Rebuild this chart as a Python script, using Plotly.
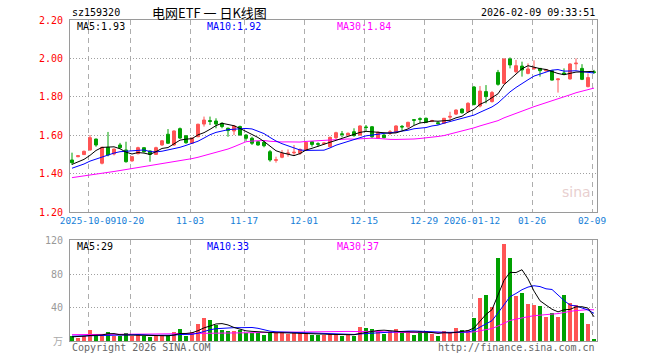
import plotly.graph_objects as go
import pandas as pd

# ---------------- data ----------------
opens = [1.471, 1.488, 1.499, 1.523, 1.580, 1.454, 1.537, 1.502, 1.549, 1.523,
         1.466, 1.504, 1.535, 1.518, 1.500, 1.549, 1.605, 1.549, 1.634, 1.597,
         1.558, 1.592, 1.658, 1.676, 1.674, 1.662, 1.636, 1.622, 1.645, 1.601,
         1.584, 1.566, 1.563, 1.514, 1.469, 1.485, 1.504, 1.508, 1.506, 1.523,
         1.566, 1.556, 1.556, 1.540, 1.587, 1.607, 1.601, 1.618, 1.601, 1.643,
         1.644, 1.584, 1.601, 1.610, 1.615, 1.646, 1.644, 1.681, 1.686, 1.688,
         1.672, 1.665, 1.662, 1.694, 1.710, 1.736, 1.722, 1.851, 1.752, 1.827,
         1.775, 1.927, 1.870, 1.997, 1.931, 1.960, 1.922, 1.946, 1.948, 1.936,
         1.936, 1.889, 1.924, 1.893, 1.972, 1.948, 1.853, 1.930]
highs = [1.509, 1.497, 1.520, 1.601, 1.582, 1.540, 1.617, 1.530, 1.560, 1.566,
         1.490, 1.540, 1.537, 1.520, 1.540, 1.575, 1.632, 1.625, 1.640, 1.600,
         1.590, 1.660, 1.697, 1.697, 1.688, 1.667, 1.640, 1.653, 1.650, 1.605,
         1.592, 1.570, 1.575, 1.523, 1.488, 1.523, 1.526, 1.549, 1.531, 1.566,
         1.568, 1.563, 1.563, 1.592, 1.618, 1.622, 1.614, 1.636, 1.652, 1.653,
         1.648, 1.620, 1.605, 1.627, 1.652, 1.653, 1.670, 1.684, 1.693, 1.692,
         1.680, 1.672, 1.690, 1.722, 1.735, 1.740, 1.772, 1.856, 1.856, 1.861,
         1.830, 1.940, 2.000, 2.005, 1.992, 1.983, 1.974, 1.990, 1.950, 1.945,
         1.940, 1.895, 1.948, 1.975, 2.000, 1.970, 1.922, 1.940]
lows = [1.445, 1.485, 1.497, 1.520, 1.540, 1.448, 1.490, 1.495, 1.530, 1.457,
        1.462, 1.500, 1.510, 1.462, 1.497, 1.545, 1.555, 1.545, 1.580, 1.555,
        1.555, 1.590, 1.645, 1.653, 1.636, 1.636, 1.592, 1.601, 1.598, 1.571,
        1.549, 1.545, 1.537, 1.462, 1.457, 1.480, 1.488, 1.497, 1.497, 1.520,
        1.540, 1.540, 1.550, 1.537, 1.578, 1.589, 1.598, 1.592, 1.598, 1.622,
        1.584, 1.580, 1.584, 1.601, 1.612, 1.627, 1.636, 1.653, 1.662, 1.663,
        1.668, 1.655, 1.658, 1.670, 1.705, 1.712, 1.718, 1.755, 1.745, 1.766,
        1.770, 1.858, 1.865, 1.948, 1.922, 1.905, 1.917, 1.940, 1.905, 1.930,
        1.885, 1.822, 1.913, 1.890, 1.940, 1.887, 1.849, 1.920]
closes = [1.457, 1.493, 1.516, 1.587, 1.549, 1.537, 1.497, 1.528, 1.535, 1.462,
          1.488, 1.535, 1.514, 1.500, 1.535, 1.571, 1.558, 1.622, 1.585, 1.561,
          1.584, 1.657, 1.679, 1.672, 1.658, 1.645, 1.624, 1.648, 1.601, 1.584,
          1.558, 1.549, 1.545, 1.471, 1.472, 1.506, 1.507, 1.511, 1.526, 1.563,
          1.552, 1.553, 1.559, 1.589, 1.613, 1.604, 1.610, 1.598, 1.648, 1.640,
          1.592, 1.615, 1.587, 1.618, 1.648, 1.643, 1.667, 1.678, 1.683, 1.667,
          1.676, 1.660, 1.688, 1.698, 1.731, 1.717, 1.766, 1.760, 1.830, 1.801,
          1.822, 1.865, 1.997, 1.966, 1.962, 1.940, 1.945, 1.950, 1.936, 1.941,
          1.887, 1.893, 1.918, 1.971, 1.975, 1.891, 1.900, 1.927]
volumes = [5.4, 3.2, 5.4, 12.7, 8.6, 6.4, 10.2, 6.4, 6.0, 9.0,
           6.4, 6.8, 6.0, 4.4, 6.4, 7.2, 7.2, 10.4, 13.9, 6.4,
           11.2, 20.0, 27.2, 24.7, 19.0, 13.3, 12.0, 12.0, 13.7, 10.0,
           10.0, 10.0, 6.8, 11.2, 11.2, 10.4, 8.8, 10.0, 10.0, 10.0,
           7.6, 6.8, 6.8, 8.6, 8.7, 6.3, 7.5, 6.3, 16.3, 15.1,
           13.9, 11.5, 7.9, 11.5, 13.9, 10.7, 11.5, 7.5, 11.5, 11.5,
           8.7, 6.3, 11.5, 10.3, 15.1, 12.7, 12.7, 27.0, 52.0, 55.0,
           41.0, 99.0, 116.0, 100.0, 54.0, 58.0, 44.0, 43.0, 42.0, 28.3,
           33.0, 28.3, 55.0, 45.0, 43.0, 34.0, 20.0, 3.0]

# moving-average values before enough history is on screen
ma5_head = [1.448, 1.460, 1.474, 1.495]
ma10_head = [1.428, 1.438, 1.450, 1.465, 1.476, 1.488, 1.498, 1.507, 1.514]
ma30_head = [1.379, 1.383, 1.388, 1.393, 1.398, 1.402, 1.407, 1.411, 1.416, 1.421,
             1.425, 1.430, 1.435, 1.440, 1.445, 1.450, 1.455, 1.460, 1.466, 1.472,
             1.478, 1.485, 1.493, 1.501, 1.510, 1.519, 1.528, 1.540, 1.553]
vma5_head = [5.0, 5.2, 5.8, 6.6]
vma10_head = [5.8, 5.9, 6.0, 6.2, 6.4, 6.6, 6.8, 7.0, 7.2]
vma30_head = [7.6, 7.6, 7.7, 7.7, 7.8, 7.8, 7.9, 7.9, 8.0, 8.0,
              8.1, 8.1, 8.2, 8.3, 8.4, 8.5, 8.6, 8.7, 8.8, 8.9,
              9.0, 9.2, 9.4, 9.6, 9.8, 9.9, 10.0, 10.1, 10.3]

# header readouts as printed on the chart
price_ma_text = ["MA5:1.93", "MA10:1.92", "MA30:1.84"]
vol_ma_text = ["MA5:29", "MA10:33", "MA30:37"]

tick_idx = [3, 10, 20, 29, 39, 49, 59, 67, 77, 87]
tick_labels = ["2025-10-09", "10-20", "11-03", "11-17", "12-01", "12-15",
               "12-29", "2026-01-12", "01-26", "02-09"]
price_ticks = [1.20, 1.40, 1.60, 1.80, 2.00, 2.20]
vol_ticks = [40, 80, 120]

code = "sz159320"
title_text = "电网ETF 一 日K线图"
stamp = "2026-02-09 09:33:51"

# ---------------- derived ----------------
n = len(closes)
xs = list(range(n))


def moving_average(values, window, head):
    s = pd.Series(values, dtype=float).rolling(window).mean().tolist()
    return list(head) + s[len(head):]


ma5 = moving_average(closes, 5, ma5_head)
ma10 = moving_average(closes, 10, ma10_head)
ma30 = moving_average(closes, 30, ma30_head)
vma5 = moving_average(volumes, 5, vma5_head)
vma10 = moving_average(volumes, 10, vma10_head)
vma30 = moving_average(volumes, 30, vma30_head)

UP = "#FF5555"
DOWN = "#00A000"
MONO = "DejaVu Sans Mono"
CJK = "Noto Sans CJK SC"
GRID = "#ADADAD"
BORDER = "#9A9A9A"
MA_COLORS = ["#000000", "#0000FF", "#FF00FF"]

bar_colors = [UP if c >= o else DOWN for o, c in zip(opens, closes)]

fig = go.Figure()
fig.add_trace(go.Candlestick(
    x=xs, open=opens, high=highs, low=lows, close=closes,
    increasing=dict(line=dict(color=UP, width=1), fillcolor=UP),
    decreasing=dict(line=dict(color=DOWN, width=1), fillcolor=DOWN),
    whiskerwidth=0, xaxis="x", yaxis="y", hoverinfo="skip"))
for vals, col in ((ma30, MA_COLORS[2]), (ma10, MA_COLORS[1]), (ma5, MA_COLORS[0])):
    fig.add_trace(go.Scatter(x=xs, y=vals, mode="lines",
                             line=dict(color=col, width=1),
                             xaxis="x", yaxis="y", hoverinfo="skip"))

fig.add_trace(go.Bar(x=xs, y=volumes, marker=dict(color=bar_colors, line=dict(width=0)),
                     width=0.82, xaxis="x2", yaxis="y2", hoverinfo="skip"))
for vals, col in ((vma30, MA_COLORS[2]), (vma10, MA_COLORS[1]), (vma5, MA_COLORS[0])):
    fig.add_trace(go.Scatter(x=xs, y=vals, mode="lines",
                             line=dict(color=col, width=1),
                             xaxis="x2", yaxis="y2", hoverinfo="skip"))

# plot-area geometry (pixels)
L, R, T, B = 70, 597, 20, 341
W, H = R - L, B - T


def px(X):
    return (X - L) / W


def py(Y):
    return (B - Y) / H


grid_x = [i - 1 / 3 for i in tick_idx]
xrange_ = [-1 / 3, n - 0.5]

common_x = dict(range=xrange_, showgrid=True, gridcolor=GRID, gridwidth=1,
                griddash="5px,4px", zeroline=False, showline=True, mirror=True,
                linecolor=BORDER, linewidth=1, ticks="", fixedrange=True,
                tickvals=grid_x, automargin=False)

fig.update_layout(
    width=660, height=360,
    margin=dict(l=L, r=660 - R, t=T, b=360 - B, autoexpand=False),
    paper_bgcolor="white", plot_bgcolor="white",
    showlegend=False, hovermode=False, boxgap=0.3, bargap=0,
    xaxis=dict(**common_x, anchor="y", ticktext=tick_labels, tickangle=0,
               tickfont=dict(family=MONO, size=9.4, color="#1580D8"),
               rangeslider=dict(visible=False)),
    xaxis2=dict(**common_x, anchor="y2", matches="x", showticklabels=False),
    yaxis=dict(domain=[py(212), 1], range=[1.2, 2.2], tickvals=price_ticks,
               ticktext=[f"{v:.2f}" for v in price_ticks],
               tickfont=dict(family=MONO, size=10, color="#FF0000"),
               showgrid=True, gridcolor="#A0A0A0", griddash="1px,2px",
               zeroline=False, showline=True, mirror=True, linecolor=BORDER,
               ticks="", ticklabelstandoff=4, fixedrange=True, automargin=False),
    yaxis2=dict(domain=[0, py(240)], range=[0, 121], tickvals=vol_ticks,
                ticktext=[str(v) for v in vol_ticks],
                tickfont=dict(family=MONO, size=10, color="#999999"),
                showgrid=True, gridcolor="#A0A0A0", griddash="1px,2px",
                zeroline=False, showline=True, mirror=True, linecolor=BORDER,
                ticks="", ticklabelstandoff=4, fixedrange=True, automargin=False),
)


def label(X, Y, text, color="#000000", size=10, family=MONO, anchor="left"):
    fig.add_annotation(x=px(X), y=py(Y), xref="paper", yref="paper", text=text,
                       showarrow=False, xanchor=anchor, yanchor="middle",
                       font=dict(family=family, size=size, color=color))


label(70, 12.5, code)
label(209, 12.5, title_text, size=13, family=CJK, anchor="center")
label(597, 12.5, stamp, anchor="right")
for X, txt, col in zip((75, 205, 335), price_ma_text, MA_COLORS):
    label(X, 26, txt, color=col)
for X, txt, col in zip((75, 205, 335), vol_ma_text, MA_COLORS):
    label(X, 246, txt, color=col)
label(70, 347, "Copyright 2026 SINA.COM", color="#666666")
label(597, 347, "http://finance.sina.com.cn", color="#666666", anchor="right")
label(65, 340, "万", color="#AAAAAA", size=10, family=CJK, anchor="right")
label(576, 192, "sina", color="#E8CFCF", size=14, family="DejaVu Sans", anchor="center")

fig.write_html("out.html", config={"displayModeBar": False},
               post_script="document.body.style.margin='0px';"
                           "document.body.style.overflow='hidden';")
